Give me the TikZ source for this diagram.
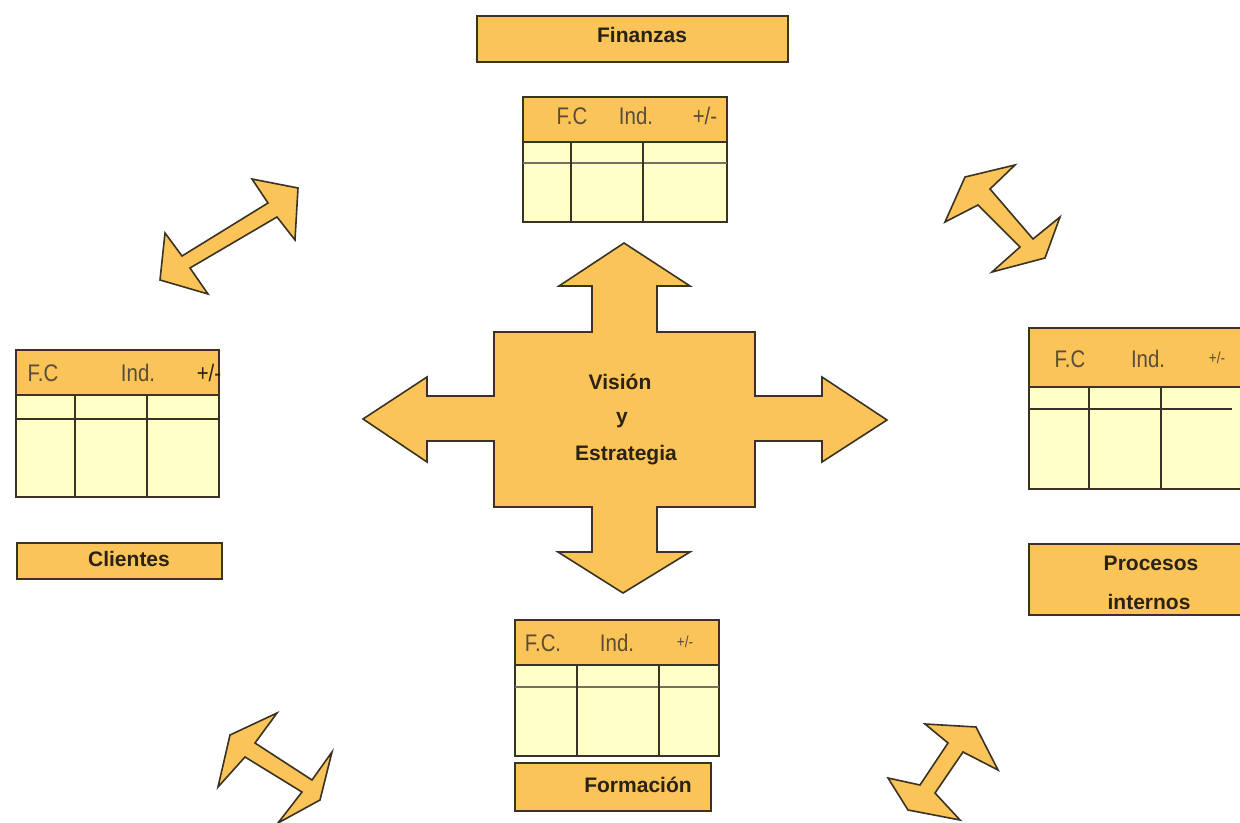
\documentclass[tikz,border=0pt]{standalone}
\usepackage{fontspec}
\setmainfont{Liberation Sans}
\newfontfamily\narrowfont[FakeStretch=0.85]{Liberation Sans}
\definecolor{orng}{HTML}{FAC458}
\definecolor{lyel}{HTML}{FFFFC8}
\definecolor{edgec}{HTML}{3A3222}
\definecolor{txtc}{HTML}{2A2214}
\definecolor{hdrc}{HTML}{5A4C38}
\tikzset{
  lbl/.style={font=\bfseries\fontsize{10.5}{12}\selectfont, text=txtc, inner sep=0pt},
  hdrtxt/.style={font=\narrowfont\fontsize{12}{14}\selectfont, text=hdrc, inner sep=0pt},
  smallhdr/.style={font=\narrowfont\fontsize{8}{10}\selectfont, text=hdrc, inner sep=0pt},
  shp/.style={fill=orng, draw=edgec, line width=0.8pt, line join=miter},
  boxc/.style={fill=orng, draw=edgec, line width=1pt},
  cell/.style={draw=edgec, line width=1pt},
  thincell/.style={draw=edgec!70, line width=0.6pt}
}
\begin{document}
\begin{tikzpicture}[x=0.5pt,y=-0.5pt]
\clip (0,0) rectangle (1240,823);
\fill[white] (0,0) rectangle (1240,823);

% ---------- Finanzas ----------
\draw[boxc] (477,16) rectangle (788,62);
\node[lbl] (finl) at (642,35) {Finanzas};
\fill[lyel] (523,97) rectangle (727,222);
\fill[orng] (523,97) rectangle (727,142);
\draw[cell] (523,97) rectangle (727,222);
\draw[cell] (523,142) -- (727,142);
\draw[thincell] (523,163) -- (727,163);
\draw[cell] (571,142) -- (571,222) (643,142) -- (643,222);
\node[hdrtxt] (finfc) at (572,116) {F.C};
\node[hdrtxt] (finind) at (636,116) {Ind.};
\node[hdrtxt] (finpm) at (705,116) {+/-};

% ---------- Clientes ----------
\fill[lyel] (16,350) rectangle (219,497);
\fill[orng] (16,350) rectangle (219,395);
\draw[cell] (16,350) rectangle (219,497);
\draw[cell] (16,395) -- (219,395);
\draw[cell] (16,419) -- (219,419);
\draw[cell] (75,395) -- (75,497) (147,395) -- (147,497);
\node[hdrtxt] (clifc) at (43,373) {F.C};
\node[hdrtxt] (cliind) at (138,373) {Ind.};
\node[hdrtxt, text=txtc] (clipm) at (209,373) {+/-};
\draw[boxc] (17,543) rectangle (222,579);
\node[lbl] (clil) at (129,559) {Clientes};

% ---------- Procesos internos ----------
\fill[lyel] (1029,328) rectangle (1245,489);
\fill[orng] (1029,328) rectangle (1245,387);
\draw[cell] (1029,328) rectangle (1245,489);
\draw[cell] (1029,387) -- (1245,387);
\draw[cell] (1029,409) -- (1232,409);
\draw[cell] (1089,387) -- (1089,489) (1161,387) -- (1161,489);
\node[hdrtxt] (profc) at (1070,359) {F.C};
\node[hdrtxt] (proind) at (1148,359) {Ind.};
\node[smallhdr] (propm) at (1217,358) {+/-};
\draw[boxc] (1029,544) rectangle (1245,615);
\node[lbl] (prol1) at (1151,563) {Procesos};
\node[lbl] (prol2) at (1149,602) {internos};

% ---------- Formacion ----------
\fill[lyel] (515,620) rectangle (719,756);
\fill[orng] (515,620) rectangle (719,665);
\draw[cell] (515,620) rectangle (719,756);
\draw[cell] (515,665) -- (719,665);
\draw[thincell] (515,687) -- (719,687);
\draw[cell] (577,665) -- (577,756) (659,665) -- (659,756);
\node[hdrtxt] (forfc) at (543,643) {F.C.};
\node[hdrtxt] (forind) at (617,643) {Ind.};
\node[smallhdr] (forpm) at (685,642) {+/-};
\draw[boxc] (515,763) rectangle (711,811);
\node[lbl] (forl) at (638,785) {Formación};

% ---------- Central cross ----------
\draw[shp] (624,243) -- (690,286) -- (657,286) -- (657,332) -- (755,332) -- (755,396)
  -- (822,396) -- (822,377) -- (887,420) -- (822,462) -- (822,441) -- (755,441)
  -- (755,507) -- (657,507) -- (657,552) -- (690,552) -- (623,593) -- (558,552)
  -- (592,552) -- (592,507) -- (494,507) -- (494,441) -- (427,441) -- (427,462)
  -- (363,419) -- (427,377) -- (427,396) -- (494,396) -- (494,332) -- (592,332)
  -- (592,286) -- (559,286) -- cycle;
\node[lbl] (vis) at (620,382) {Visión};
\node[lbl] (yy) at (622,420) {y};
\node[lbl] (est) at (626,455) {Estrategia};

% ---------- Diagonal double arrows ----------
% upper left
\draw[shp] (160,280) -- (165,233) -- (182,256) -- (268,203) -- (252,179) -- (298,188)
  -- (295,240) -- (277,217) -- (190,268) -- (208,294) -- cycle;
% upper right
\draw[shp] (965,177) -- (1015,165) -- (990,189) -- (1033,239) -- (1060,217) -- (1045,258)
  -- (992,272) -- (1020,247) -- (978,205) -- (945,222) -- cycle;
% lower left
\draw[shp] (230,735) -- (277,713) -- (255,743) -- (312,780) -- (332,752) -- (320,800)
  -- (278,823) -- (302,792) -- (245,757) -- (218,787) -- cycle;
% lower right
\draw[shp] (976,727) -- (998,770) -- (963,752) -- (935,793) -- (960,820) -- (908,810)
  -- (888,778) -- (920,785) -- (948,743) -- (925,724) -- cycle;
\end{tikzpicture}
\end{document}
